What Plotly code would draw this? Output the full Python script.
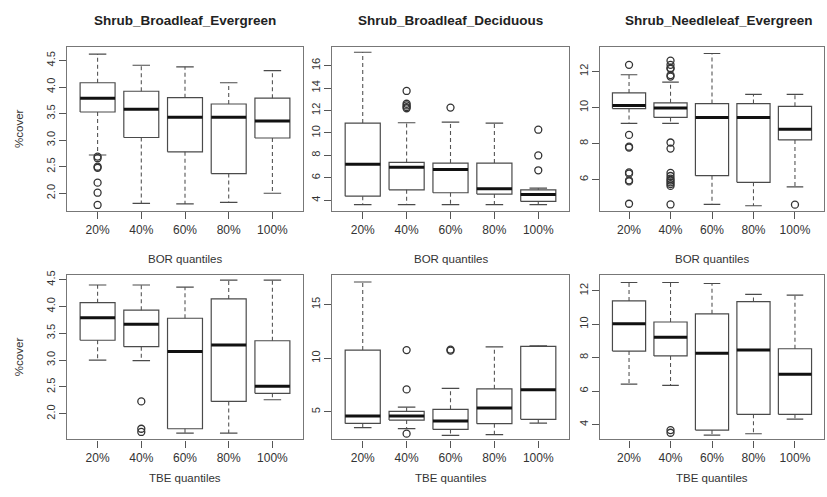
import plotly.graph_objects as go

quantiles = ["20%", "40%", "60%", "80%", "100%"]
titles = ["Shrub_Broadleaf_Evergreen", "Shrub_Broadleaf_Deciduous", "Shrub_Needleleaf_Evergreen"]
row_labels = ["BOR quantiles", "TBE quantiles"]

# Shrub_Broadleaf_Evergreen vs BOR quantiles
sbe_bor_low = [2.72, 1.81, 1.80, 1.83, 2.00]
sbe_bor_q1 = [3.53, 3.05, 2.78, 2.37, 3.04]
sbe_bor_med = [3.79, 3.58, 3.43, 3.43, 3.36]
sbe_bor_q3 = [4.08, 3.92, 3.80, 3.68, 3.79]
sbe_bor_high = [4.62, 4.41, 4.38, 4.08, 4.31]
sbe_bor_out = [[2.69, 2.66, 2.50, 2.48, 2.20, 2.01, 1.78], [], [], [], []]

# Shrub_Broadleaf_Deciduous vs BOR quantiles
sbd_bor_low = [3.62, 3.62, 3.62, 3.62, 3.62]
sbd_bor_q1 = [4.38, 4.94, 4.68, 4.56, 3.91]
sbd_bor_med = [7.21, 6.94, 6.74, 5.03, 4.53]
sbd_bor_q3 = [10.88, 7.38, 7.32, 7.32, 4.94]
sbd_bor_high = [17.18, 10.91, 10.97, 10.88, 5.09]
sbd_bor_out = [[], [13.74, 12.6, 12.45, 12.3, 12.2], [12.26], [], [10.29, 8.0, 6.68]]

# Shrub_Needleleaf_Evergreen vs BOR quantiles
sne_bor_low = [9.12, 9.12, 4.62, 4.55, 5.60]
sne_bor_q1 = [9.94, 9.45, 6.22, 5.85, 8.20]
sne_bor_med = [10.11, 9.98, 9.45, 9.45, 8.79]
sne_bor_q3 = [10.81, 10.26, 10.22, 10.22, 10.07]
sne_bor_high = [11.82, 11.41, 13.0, 10.73, 10.73]
sne_bor_out = [[12.37, 8.48, 7.83, 7.78, 6.40, 6.33, 5.96, 5.90, 4.66],
               [12.6, 12.37, 12.2, 12.15, 11.8, 11.72, 8.06, 7.72,
                6.37, 6.2, 6.05, 5.95, 5.85, 5.75, 5.65, 4.62],
               [], [], [4.61]]

# Shrub_Broadleaf_Evergreen vs TBE quantiles
sbe_tbe_low = [3.00, 2.99, 1.64, 1.64, 2.26]
sbe_tbe_q1 = [3.37, 3.25, 1.72, 2.23, 2.38]
sbe_tbe_med = [3.79, 3.67, 3.16, 3.28, 2.51]
sbe_tbe_q3 = [4.07, 3.93, 3.78, 4.14, 3.36]
sbe_tbe_high = [4.40, 4.40, 4.36, 4.49, 4.49]
sbe_tbe_out = [[], [2.23, 1.72, 1.66], [], [], []]

# Shrub_Broadleaf_Deciduous vs TBE quantiles
sbd_tbe_low = [3.51, 3.42, 2.80, 2.86, 3.94]
sbd_tbe_q1 = [3.91, 4.22, 3.35, 3.88, 4.29]
sbd_tbe_med = [4.60, 4.60, 4.13, 5.34, 7.05]
sbd_tbe_q3 = [10.75, 5.03, 5.22, 7.14, 11.10]
sbd_tbe_high = [17.11, 5.43, 7.17, 11.06, 11.15]
sbd_tbe_out = [[], [10.75, 7.08, 2.95], [10.8, 10.7], [], []]

# Shrub_Needleleaf_Evergreen vs TBE quantiles
sne_tbe_low = [6.42, 6.34, 3.37, 3.45, 4.33]
sne_tbe_q1 = [8.39, 8.10, 3.67, 4.61, 4.61]
sne_tbe_med = [10.03, 9.22, 8.26, 8.45, 7.01]
sne_tbe_q3 = [11.39, 10.13, 10.62, 11.35, 8.53]
sne_tbe_high = [12.49, 12.49, 12.43, 11.78, 11.74]
sne_tbe_out = [[], [3.67, 3.51], [], [], []]

panels = [
    (sbe_bor_low, sbe_bor_q1, sbe_bor_med, sbe_bor_q3, sbe_bor_high, sbe_bor_out),
    (sbd_bor_low, sbd_bor_q1, sbd_bor_med, sbd_bor_q3, sbd_bor_high, sbd_bor_out),
    (sne_bor_low, sne_bor_q1, sne_bor_med, sne_bor_q3, sne_bor_high, sne_bor_out),
    (sbe_tbe_low, sbe_tbe_q1, sbe_tbe_med, sbe_tbe_q3, sbe_tbe_high, sbe_tbe_out),
    (sbd_tbe_low, sbd_tbe_q1, sbd_tbe_med, sbd_tbe_q3, sbd_tbe_high, sbd_tbe_out),
    (sne_tbe_low, sne_tbe_q1, sne_tbe_med, sne_tbe_q3, sne_tbe_high, sne_tbe_out),
]

y_ranges = [[1.66, 4.76], [3.03, 17.68], [4.24, 13.38],
            [1.52, 4.59], [2.41, 17.78], [3.11, 12.95]]
y_ticks = [[2.0, 2.5, 3.0, 3.5, 4.0, 4.5], [4, 6, 8, 10, 12, 14, 16], [6, 8, 10, 12],
           [2.0, 2.5, 3.0, 3.5, 4.0, 4.5], [5, 10, 15], [4, 6, 8, 10, 12]]
y_fmt = ["{:.1f}", "{:d}", "{:d}", "{:.1f}", "{:d}", "{:d}"]

# layout in pixels of the 827x497 page
W, H = 827, 497
col_px = [(67, 303), (332, 569), (600, 824)]
row_px = [(43, 209), (273, 439)]
title_px = [185, 450, 719]

FONT = "Liberation Sans, Arial, sans-serif"
half = 0.4
staple = 0.2

fig = go.Figure()
layout = {}
annotations = []


def note(text, x, y, size, angle=0, color="#333333"):
    return dict(text=text, x=x, y=y, xref="paper", yref="paper", showarrow=False,
                xanchor="center", yanchor="middle", textangle=angle,
                font=dict(family=FONT, size=size, color=color))


for k, (low, q1, med, q3, high, outs) in enumerate(panels):
    r, c = divmod(k, 3)
    sfx = "" if k == 0 else str(k + 1)
    xa, ya = "x" + sfx, "y" + sfx
    pos = list(range(1, len(quantiles) + 1))

    wx, wy, bx, by, mx, my, sx, sy, ox, oy = [], [], [], [], [], [], [], [], [], []
    for i, p in enumerate(pos):
        wx += [p, p, None, p, p, None]
        wy += [q3[i], high[i], None, q1[i], low[i], None]
        bx += [p - half, p + half, p + half, p - half, p - half, None]
        by += [q1[i], q1[i], q3[i], q3[i], q1[i], None]
        mx += [p - half, p + half, None]
        my += [med[i], med[i], None]
        sx += [p - staple, p + staple, None, p - staple, p + staple, None]
        sy += [high[i], high[i], None, low[i], low[i], None]
        ox += [p] * len(outs[i])
        oy += outs[i]

    common = dict(xaxis=xa, yaxis=ya, showlegend=False, hoverinfo="skip")
    fig.add_trace(go.Scatter(x=wx, y=wy, mode="lines",
                             line=dict(color="#555555", width=1.1, dash="4px,3px"), **common))
    fig.add_trace(go.Scatter(x=bx, y=by, mode="lines",
                             line=dict(color="#4a4a4a", width=1.2), **common))
    fig.add_trace(go.Scatter(x=mx, y=my, mode="lines",
                             line=dict(color="#111111", width=3), **common))
    fig.add_trace(go.Scatter(x=sx, y=sy, mode="lines",
                             line=dict(color="#4a4a4a", width=1.2), **common))
    fig.add_trace(go.Scatter(x=ox, y=oy, mode="markers",
                             marker=dict(symbol="circle-open", size=7, color="#333333",
                                         line=dict(width=1.3)), **common))

    x0, x1 = col_px[c]
    y0, y1 = row_px[r]
    layout["xaxis" + sfx] = dict(
        domain=[x0 / W, x1 / W], anchor=ya, range=[0.3, 5.7],
        tickvals=pos, ticktext=quantiles, ticks="outside", ticklen=7,
        tickcolor="#555555", showline=True, mirror=True, linecolor="#777777",
        linewidth=1.2, showgrid=False, zeroline=False,
        tickfont=dict(family=FONT, size=12, color="#333333"))
    layout["yaxis" + sfx] = dict(
        domain=[1 - y1 / H, 1 - y0 / H], anchor=xa, range=y_ranges[k],
        tickvals=y_ticks[k], ticktext=[y_fmt[k].format(v) for v in y_ticks[k]],
        tickangle=-90, ticks="outside", ticklen=7, tickcolor="#555555",
        showline=True, mirror=True, linecolor="#777777", linewidth=1.2,
        showgrid=False, zeroline=False,
        tickfont=dict(family=FONT, size=11, color="#333333"))

    xc = (x0 + x1) / 2 / W
    if r == 0:
        annotations.append(note("<b>" + titles[c] + "</b>", title_px[c] / W, 1 - 17 / H,
                                13.5, color="#222222"))
    lab_y = 257 if r == 0 else 478
    annotations.append(note(row_labels[r], xc, 1 - lab_y / H, 11.5))
    if c == 0:
        annotations.append(note("%cover", 19 / W, 1 - (y0 + y1) / 2 / H, 11.5, angle=-90))

fig.update_layout(**layout)
fig.update_layout(width=W, height=H, margin=dict(l=0, r=0, t=0, b=0),
                  plot_bgcolor="white", paper_bgcolor="white",
                  annotations=annotations)
# drop the default page margin so the 827x497 figure fills the window exactly
fig.write_html("out.html", config={"displayModeBar": False},
               post_script="document.body.style.margin='0';document.body.style.overflow='hidden';")
